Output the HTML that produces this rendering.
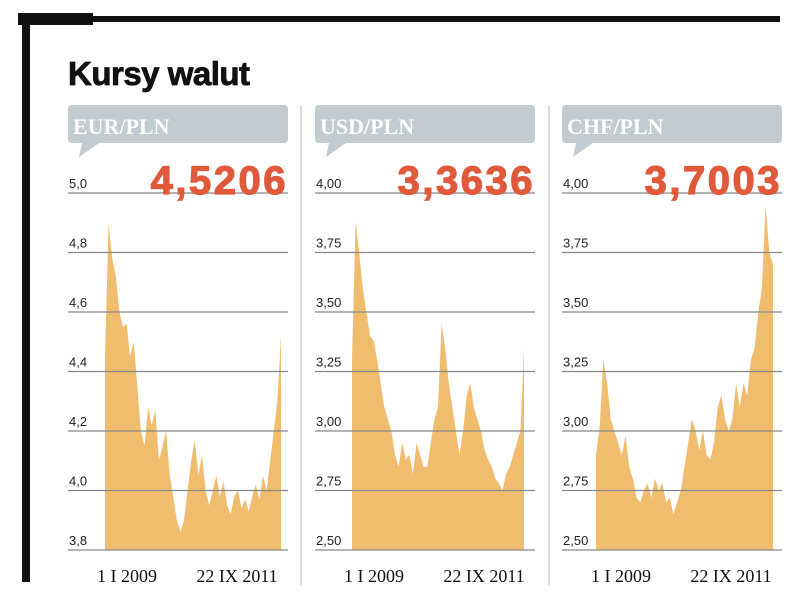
<!DOCTYPE html>
<html><head><meta charset="utf-8"><style>
body{margin:0;background:#fff;}
svg{display:block;font-family:"Liberation Sans",sans-serif;}
</style></head><body>
<svg id="c" width="805" height="595" viewBox="0 0 805 595">
<rect x="18" y="13" width="75" height="12" fill="#111"/>
<rect x="18" y="16" width="762" height="6" fill="#111"/>
<rect x="22" y="16" width="8" height="566" fill="#111"/>
<text x="68" y="85" font-size="33" font-weight="bold" fill="#111" letter-spacing="-0.5" stroke="#111" stroke-width="0.8">Kursy walut</text>
<line x1="301" y1="105" x2="301" y2="585" stroke="#ddd" stroke-width="2"/>
<line x1="549" y1="105" x2="549" y2="585" stroke="#ddd" stroke-width="2"/>
<g id="panels"></g>
</svg>
<script>
const panelNames=["EUR/PLN","USD/PLN","CHF/PLN"];
const currentValues=["4,5206","3,3636","3,7003"];
const eurTicks=[3.8,4.0,4.2,4.4,4.6,4.8,5.0];
const usdTicks=[2.5,2.75,3.0,3.25,3.5,3.75,4.0];
const chfTicks=[2.5,2.75,3.0,3.25,3.5,3.75,4.0];
const eurTickLabels=["3,8","4,0","4,2","4,4","4,6","4,8","5,0"];
const usdTickLabels=["2,50","2,75","3,00","3,25","3,50","3,75","4,00"];
const chfTickLabels=["2,50","2,75","3,00","3,25","3,50","3,75","4,00"];
const xLabels=["1 I 2009","22 IX 2011"];
const eurValues=[4.45,4.9,4.78,4.72,4.6,4.55,4.56,4.45,4.5,4.35,4.2,4.15,4.28,4.22,4.27,4.1,4.15,4.2,4.05,3.98,3.9,3.86,3.9,4.0,4.1,4.17,4.05,4.12,4.0,3.95,4.0,4.05,3.98,4.03,3.95,3.92,3.98,4.0,3.94,3.97,3.93,3.98,4.02,3.97,4.05,4.0,4.1,4.2,4.3,4.52];
const usdValues=[3.3,3.88,3.75,3.6,3.5,3.4,3.38,3.3,3.2,3.1,3.05,3.0,2.9,2.85,2.95,2.88,2.9,2.82,2.95,2.9,2.85,2.85,2.95,3.05,3.1,3.45,3.35,3.2,3.1,3.0,2.9,3.0,3.15,3.2,3.1,3.05,3.0,2.92,2.88,2.85,2.8,2.78,2.75,2.82,2.85,2.9,2.95,3.0,3.35];
const chfValues=[2.9,3.02,3.3,3.2,3.05,3.0,2.95,2.9,2.98,2.85,2.8,2.72,2.7,2.75,2.78,2.72,2.8,2.75,2.78,2.7,2.72,2.65,2.7,2.75,2.85,2.95,3.05,3.0,2.92,3.0,2.9,2.88,2.95,3.1,3.15,3.05,3.0,3.05,3.2,3.1,3.2,3.15,3.3,3.35,3.5,3.6,3.95,3.75,3.7];
const panels=[
 {x0:68,dx0:105,dx1:281,ticks:eurTicks,labels:eurTickLabels,vals:eurValues},
 {x0:315,dx0:352,dx1:524,ticks:usdTicks,labels:usdTickLabels,vals:usdValues},
 {x0:562,dx0:596,dx1:773,ticks:chfTicks,labels:chfTickLabels,vals:chfValues}];
const NS="http://www.w3.org/2000/svg";
const g=document.getElementById("panels");
function mk(t,a,p){const e=document.createElementNS(NS,t);for(const k in a)e.setAttribute(k,a[k]);(p||g).appendChild(e);return e;}
const yTop=193,yBot=550,W=220;
panels.forEach((p,i)=>{
 const lo=p.ticks[0],hi=p.ticks[p.ticks.length-1];
 const y=v=>yBot-(v-lo)/(hi-lo)*(yBot-yTop);
 const x=k=>p.dx0+k/(p.vals.length-1)*(p.dx1-p.dx0);
 const box=mk("path",{d:`M${p.x0+4},105 H${p.x0+W-4} Q${p.x0+W},105 ${p.x0+W},109 V139 Q${p.x0+W},143 ${p.x0+W-4},143 H${p.x0+31} L${p.x0+11},157 L${p.x0+14},143 H${p.x0+4} Q${p.x0},143 ${p.x0},139 V109 Q${p.x0},105 ${p.x0+4},105 Z`,fill:"#c2cbd0"});
 
 
 const lt=mk("text",{x:p.x0+5,y:134,"font-size":22,"font-weight":"bold","font-family":"Liberation Serif,serif",fill:"#fff"});
 lt.textContent=panelNames[i];
 
 
 let d=`M${x(0)},${yBot}`;
 p.vals.forEach((v,k)=>{d+=` L${x(k).toFixed(1)},${y(v).toFixed(1)}`;});
 d+=` L${x(p.vals.length-1)},${yBot} Z`;
 const area=mk("path",{d,fill:"#f0bd6e"});
 
 
 p.ticks.forEach((t,k)=>{
  const gl=mk("line",{x1:p.x0,x2:p.x0+W,y1:y(t),y2:y(t),stroke:"#888","stroke-width":1.2});
  
  
  const tl=mk("text",{x:p.x0+1,y:y(t)-5,"font-size":13,fill:"#222"});
  tl.textContent=p.labels[k];
  
  
 });
 const cv=mk("text",{x:p.x0+W,y:194,"font-size":40,"font-weight":"bold","text-anchor":"end",fill:"#e0593a","letter-spacing":"2.5",stroke:"#e0593a","stroke-width":1.2});
 cv.textContent=currentValues[i];
 
 
 [p.x0+59,p.x0+169].forEach((cx,k)=>{
  const xl=mk("text",{x:cx,y:582,"font-size":18,"text-anchor":"middle","font-family":"Liberation Serif,serif",fill:"#111"});
  xl.textContent=xLabels[k];
  
  
 });
});
</script>
</body></html>
